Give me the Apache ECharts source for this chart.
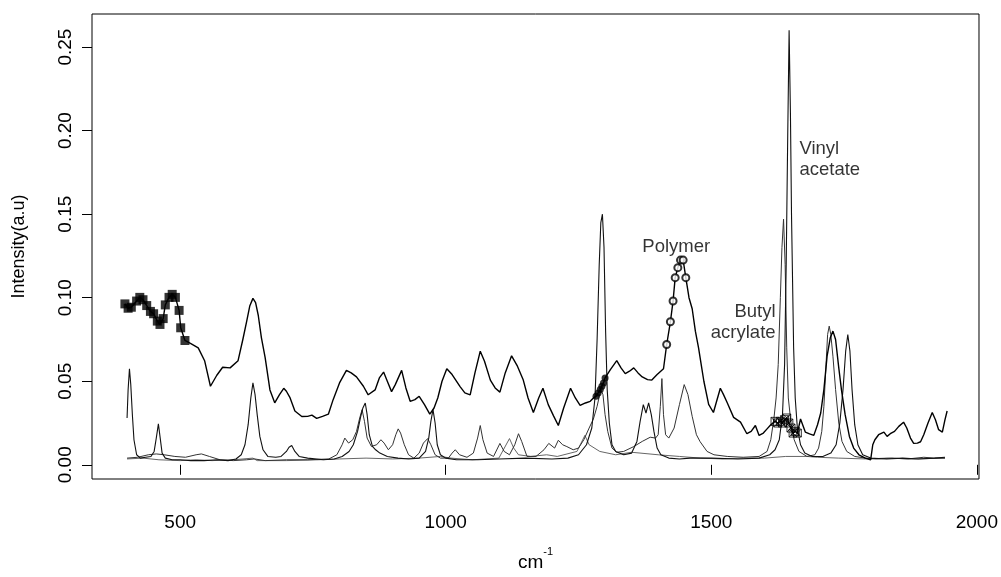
<!DOCTYPE html>
<html>
<head>
<meta charset="utf-8">
<title>Raman spectra</title>
<script src="https://cdn.jsdelivr.net/npm/echarts@6/dist/echarts.min.js"></script>
<style>
html,body{margin:0;padding:0;background:#fff;}
#main{width:1001px;height:577px;}
</style>
</head>
<body>
<div id="main"></div>
<script>
// polymer spectrum (upper curve)
var polyX=[396,402,408,418,424,430,437,444,450,457,462,468,472,479,485,491,498,501,509,521,534,546,557,569,580,594,609,618,625,631,637,642,647,653,660,669,678,687,695,700,707,716,729,740,748,757,768,779,788,800,813,822,832,845,854,867,875,883,890,898,905,917,925,933,942,950,960,970,978,985,993,1002,1012,1027,1036,1046,1055,1065,1073,1084,1093,1102,1112,1124,1135,1146,1155,1165,1175,1183,1193,1203,1212,1222,1235,1244,1253,1263,1272,1278,1283,1287,1291,1294,1297,1300,1310,1322,1330,1338,1346,1354,1362,1370,1380,1388,1398,1410,1416,1423,1428,1432,1437,1442,1447,1452,1458,1464,1470,1476,1481,1486,1495,1504,1510,1517,1523,1530,1542,1555,1567,1575,1583,1590,1598,1605,1612,1620,1625,1630,1634,1638,1642,1646,1650,1654,1658,1662,1668,1677,1685,1693,1700,1706,1712,1718,1724,1729,1734,1740,1745,1752,1760,1768,1778,1790,1800,1804,1808,1815,1825,1831,1837,1845,1853,1862,1868,1875,1881,1888,1894,1900,1908,1916,1922,1928,1935,1940,1944];
var polyY=[0.0963,0.0937,0.0943,0.098,0.1002,0.0988,0.0953,0.0918,0.0904,0.086,0.084,0.0875,0.0957,0.1002,0.102,0.1002,0.0924,0.082,0.0744,0.0724,0.070,0.0623,0.047,0.0536,0.0584,0.058,0.0623,0.075,0.0856,0.095,0.0996,0.097,0.0895,0.076,0.0642,0.0448,0.0371,0.042,0.0458,0.044,0.040,0.0322,0.0289,0.029,0.0297,0.0278,0.029,0.0303,0.039,0.049,0.0565,0.055,0.0526,0.047,0.0419,0.0448,0.052,0.0555,0.05,0.0438,0.048,0.0565,0.046,0.038,0.039,0.041,0.036,0.0303,0.034,0.04,0.05,0.0575,0.054,0.0468,0.043,0.0419,0.055,0.068,0.062,0.0507,0.046,0.0435,0.055,0.0652,0.059,0.0507,0.04,0.0313,0.04,0.0458,0.036,0.0293,0.0235,0.034,0.0458,0.04,0.0355,0.037,0.038,0.04,0.041,0.043,0.045,0.047,0.049,0.052,0.057,0.0623,0.058,0.0546,0.056,0.058,0.055,0.0526,0.051,0.0507,0.054,0.0575,0.072,0.0856,0.098,0.112,0.118,0.1225,0.1225,0.112,0.1,0.0934,0.08,0.07,0.06,0.05,0.0361,0.0313,0.038,0.0458,0.042,0.0371,0.0284,0.0255,0.0186,0.02,0.0235,0.0176,0.019,0.0215,0.024,0.026,0.025,0.026,0.025,0.027,0.028,0.025,0.022,0.019,0.02,0.019,0.0274,0.0196,0.0185,0.0176,0.024,0.031,0.045,0.065,0.076,0.080,0.075,0.058,0.045,0.03,0.017,0.01,0.006,0.004,0.003,0.012,0.015,0.018,0.0196,0.017,0.0186,0.02,0.023,0.0255,0.022,0.016,0.0128,0.013,0.0138,0.018,0.025,0.0313,0.027,0.021,0.0196,0.027,0.0322];

// vinyl acetate (sharp peaks)
var vaX=[400,402,404.5,407,410,413,418,425,435,445,451,455,459,462,466,472,485,500,520,545,570,590,605,615,622,628,633,637,641,645,650,656,665,680,690,700,705,710,716,724,740,770,790,805,818,826,834,840,844,848.5,852,856,862,868,876,890,910,930,950,962,968,972,976,980,984,990,1000,1020,1060,1100,1150,1200,1230,1250,1265,1275,1281,1285,1289,1292,1295,1298,1301,1304,1308,1313,1320,1335,1350,1360,1366,1372,1377,1382,1387,1392,1398,1405,1420,1440,1460,1500,1550,1590,1610,1620,1628,1634,1638,1641,1644,1646.5,1649,1651,1653,1655,1658,1662,1668,1676,1690,1710,1725,1735,1742,1748,1753,1757,1761,1765,1770,1776,1785,1800,1830,1860,1890,1920,1940];
var vaY=[0.028,0.045,0.0575,0.048,0.03,0.015,0.006,0.004,0.0045,0.005,0.008,0.016,0.0245,0.017,0.007,0.004,0.003,0.003,0.0025,0.0025,0.003,0.0025,0.0035,0.006,0.012,0.024,0.04,0.049,0.042,0.03,0.017,0.009,0.005,0.0045,0.005,0.008,0.0105,0.0115,0.008,0.005,0.004,0.003,0.0035,0.005,0.008,0.012,0.02,0.029,0.034,0.037,0.03,0.018,0.011,0.009,0.007,0.005,0.004,0.0035,0.004,0.008,0.016,0.026,0.033,0.025,0.012,0.006,0.004,0.003,0.003,0.0035,0.004,0.0035,0.004,0.006,0.012,0.022,0.04,0.075,0.12,0.145,0.15,0.13,0.08,0.045,0.025,0.012,0.008,0.006,0.007,0.014,0.026,0.036,0.031,0.037,0.03,0.02,0.01,0.006,0.004,0.0035,0.004,0.004,0.0035,0.004,0.006,0.009,0.015,0.03,0.06,0.12,0.2,0.26,0.21,0.15,0.11,0.07,0.04,0.022,0.012,0.007,0.005,0.005,0.007,0.012,0.025,0.045,0.068,0.078,0.068,0.045,0.024,0.012,0.006,0.004,0.0035,0.004,0.0035,0.004,0.0045];

// butyl acrylate
var baX=[400,420,440,455,470,490,510,530,540,555,575,600,625,640,660,700,740,780,795,805,810,817,825,832,838,842.5,847,852,860,870,878,884,892,900,906,910.5,915,922,930,940,950,958,966,972,980,990,1005,1012,1018,1026,1040,1052,1060,1065,1070,1078,1090,1102,1110,1120,1130,1137,1143,1153,1170,1185,1194,1205,1212,1220,1228,1240,1250,1260,1270,1278,1285,1292,1296,1300,1305,1313,1322,1335,1354,1370,1385,1395,1400,1404,1407,1410,1414,1420,1430,1440,1449,1456,1464,1472,1479,1492,1505,1530,1560,1590,1605,1612,1618,1622,1626,1630,1633,1636,1639,1642,1645,1650,1656,1665,1680,1695,1702,1708,1712,1716,1719,1722,1725,1729,1734,1740,1746,1755,1770,1790,1810,1840,1870,1900,1920,1940];
var baY=[0.004,0.0045,0.006,0.0065,0.006,0.005,0.0045,0.006,0.0065,0.005,0.003,0.0025,0.003,0.0035,0.0025,0.003,0.003,0.0035,0.006,0.012,0.016,0.013,0.015,0.02,0.028,0.033,0.026,0.016,0.011,0.012,0.015,0.013,0.009,0.012,0.018,0.0215,0.019,0.012,0.006,0.004,0.007,0.013,0.0157,0.012,0.006,0.004,0.004,0.007,0.009,0.006,0.0045,0.007,0.016,0.0235,0.015,0.007,0.005,0.0128,0.008,0.006,0.012,0.0186,0.014,0.005,0.005,0.009,0.0128,0.01,0.0147,0.012,0.0109,0.009,0.01,0.015,0.022,0.0274,0.035,0.045,0.042,0.03,0.02,0.01,0.0075,0.008,0.0109,0.014,0.0165,0.016,0.018,0.035,0.0516,0.03,0.018,0.016,0.022,0.036,0.048,0.042,0.029,0.018,0.0138,0.008,0.006,0.005,0.0045,0.005,0.008,0.015,0.028,0.04,0.06,0.1,0.13,0.147,0.12,0.07,0.04,0.025,0.015,0.008,0.005,0.006,0.01,0.02,0.035,0.06,0.078,0.083,0.078,0.065,0.045,0.025,0.014,0.008,0.005,0.004,0.0035,0.004,0.0035,0.0045,0.004,0.004];

// third, low baseline spectrum
var bgX=[400,430,460,500,530,560,600,637,645,700,760,800,850,900,950,990,1010,1050,1100,1120,1128,1137,1160,1190,1210,1247,1262,1270,1290,1320,1350,1400,1440,1480,1520,1560,1600,1640,1680,1700,1740,1790,1830,1880,1940];
var bgY=[0.0035,0.004,0.003,0.0025,0.003,0.0025,0.003,0.004,0.0025,0.0025,0.003,0.0035,0.004,0.0035,0.004,0.005,0.004,0.003,0.004,0.0157,0.01,0.006,0.005,0.006,0.005,0.008,0.0176,0.012,0.008,0.006,0.0075,0.006,0.005,0.004,0.0035,0.004,0.004,0.005,0.005,0.0045,0.004,0.0035,0.004,0.0035,0.004];

// selected variables marked on the polymer curve
var sqX=[396,402,408,418,424,430,437,444,450,457,462,468,472,479,485,491,498,501,509];
var sqY=[0.0963,0.0937,0.0943,0.098,0.1002,0.0988,0.0953,0.0918,0.0904,0.086,0.084,0.0875,0.0957,0.1002,0.102,0.1002,0.0924,0.082,0.0744];
var dotX=[1283,1287,1291,1294,1297,1300];
var dotY=[0.041,0.043,0.045,0.047,0.049,0.052];
var ringX=[1416,1423,1428,1432,1437,1442,1447,1452];
var ringY=[0.072,0.0856,0.098,0.112,0.118,0.1225,0.1225,0.112];
var boxX=[1620,1625,1630,1634,1638,1642,1646,1650,1654,1658,1662];
var boxY=[0.026,0.025,0.026,0.025,0.027,0.028,0.025,0.022,0.019,0.02,0.019];

var xTicks=[500,1000,1500,2000];
var yTicks=[0,0.05,0.10,0.15,0.20,0.25];

// annotations: text, x, y, align
var notes=[
    ['Polymer',1434,0.1305,'center'],
    ['Vinyl\nacetate',1666,0.1825,'left'],
    ['Butyl\nacrylate',1621,0.085,'right']
];

function pairs(xs,ys){
    var d=[];
    for(var i=0;i<xs.length;i++){
        d.push([xs[i],ys[i]]);
    }
    return d;
}

var font='"Liberation Sans", Arial, sans-serif';

function lineSeries(name,xs,ys,color,width){
    return {
        name:name,
        type:'line',
        data:pairs(xs,ys),
        showSymbol:false,
        symbol:'none',
        lineStyle:{color:color,width:width},
        silent:true
    };
}
function markSeries(name,xs,ys,symbol,size,item){
    return {
        name:name,
        type:'scatter',
        data:pairs(xs,ys),
        symbol:symbol,
        symbolSize:size,
        itemStyle:item,
        z:5,
        silent:true
    };
}

var noteData=[];
for(var i=0;i<notes.length;i++){
    noteData.push({
        value:[notes[i][1],notes[i][2]],
        label:{show:true,position:'inside',formatter:notes[i][0],align:notes[i][3],color:'#000'}
    });
}

var myChart=echarts.init(document.getElementById('main'),null,{renderer:'canvas'});
var option={
    animation:false,
    backgroundColor:'#fff',
    grid:{
        left:92,
        right:21,
        top:14,
        bottom:85,
        show:true,
        borderColor:'#000',
        borderWidth:1
    },
    xAxis:{
        type:'value',
        min:334,
        max:2004,
        splitLine:{show:false},
        axisLine:{show:false},
        axisTick:{show:true,length:10,customValues:xTicks,lineStyle:{color:'#000'}},
        axisLabel:{
            customValues:xTicks,
            margin:34,
            color:'#000',
            fontSize:19,
            fontFamily:font,
            formatter:function(v){return String(v);}
        },
        name:'{m|cm}{s|-1}',
        nameLocation:'middle',
        nameGap:67,
        nameTextStyle:{
            rich:{
                m:{fontSize:19,fontFamily:font,color:'#000',verticalAlign:'bottom',lineHeight:26},
                s:{fontSize:11,fontFamily:font,color:'#000',verticalAlign:'top'}
            }
        }
    },
    yAxis:{
        type:'value',
        min:-0.0085,
        max:0.2698,
        splitLine:{show:false},
        axisLine:{show:false},
        axisTick:{show:true,length:10,customValues:yTicks,lineStyle:{color:'#000'}},
        axisLabel:{
            customValues:yTicks,
            rotate:90,
            margin:17,
            color:'#000',
            fontSize:19,
            fontFamily:font,
            formatter:function(v){return v.toFixed(2);}
        },
        name:'Intensity(a.u)',
        nameLocation:'middle',
        nameGap:64,
        nameTextStyle:{color:'#000',fontSize:18,fontFamily:font}
    },
    series:[
        lineSeries('bg',bgX,bgY,'#555',0.9),
        lineSeries('ba',baX,baY,'#333',1),
        lineSeries('va',vaX,vaY,'#111',1.1),
        lineSeries('polymer',polyX,polyY,'#000',1.4),
        markSeries('sq',sqX,sqY,'rect',9,{color:'#000'}),
        markSeries('dot',dotX,dotY,'circle',7,{color:'#000'}),
        markSeries('ring',ringX,ringY,'emptyCircle',7,{color:'#000',borderWidth:1}),
        markSeries('box',boxX,boxY,'path://M0,0L10,0L10,10L0,10ZM0,0L10,10M10,0L0,10',8,{color:'none',borderColor:'#000',borderWidth:1}),
        {
            name:'notes',
            type:'scatter',
            data:noteData,
            symbolSize:0,
            silent:true,
            label:{show:true,color:'#000',fontSize:18.5,fontFamily:font,lineHeight:21}
        }
    ]
};
myChart.setOption(option);
</script>
</body>
</html>
